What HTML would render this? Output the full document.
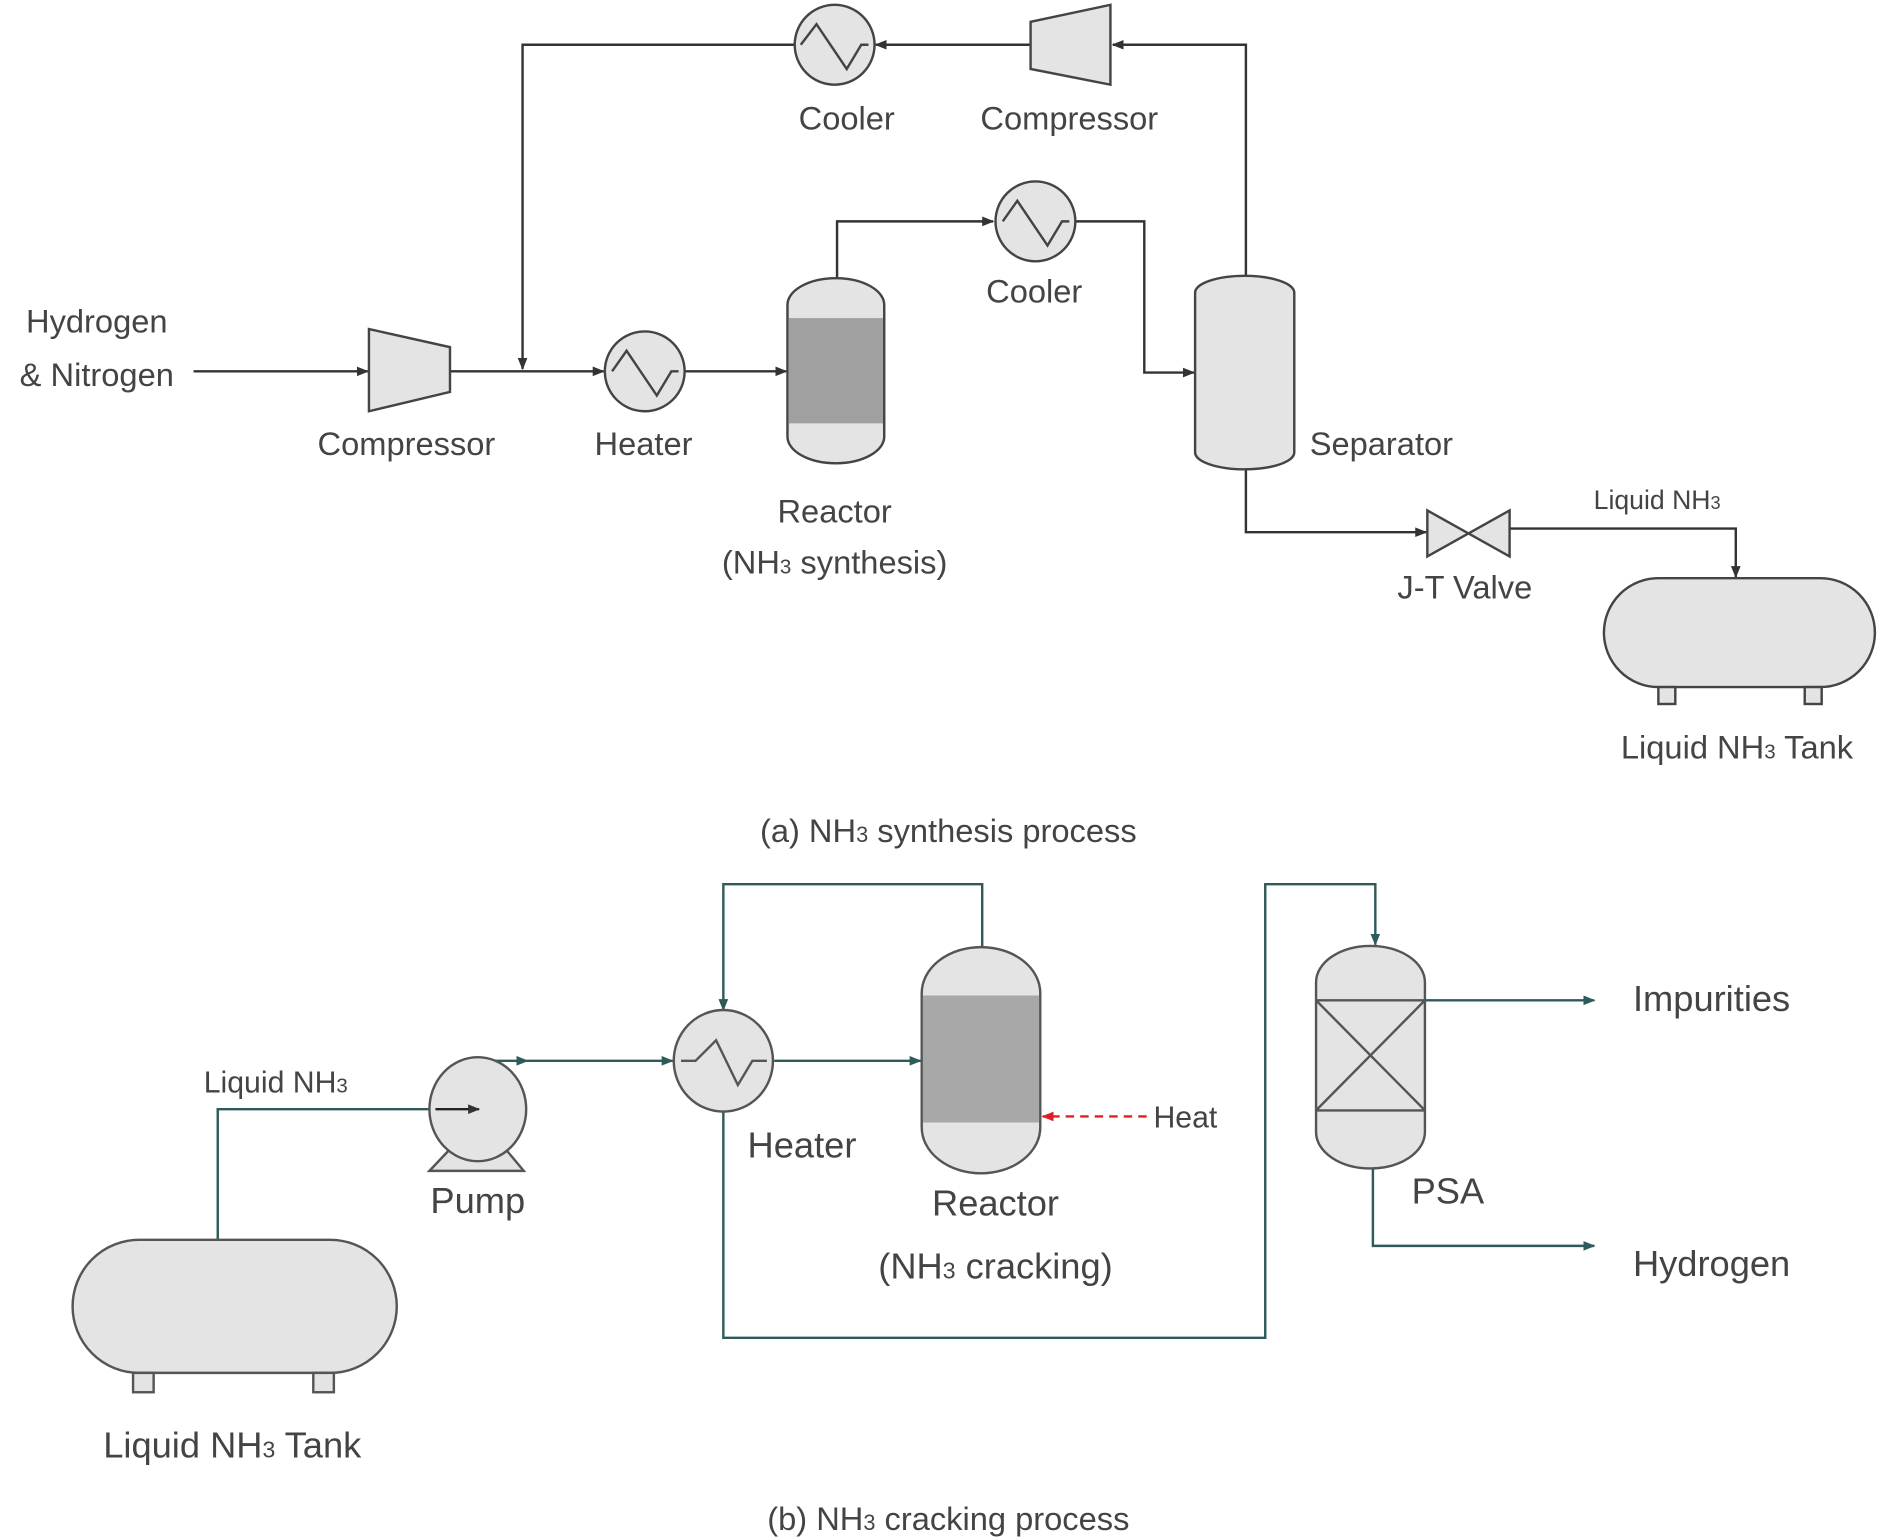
<!DOCTYPE html>
<html><head><meta charset="utf-8"><style>
html,body{margin:0;padding:0;background:#fff;}
svg{display:block;}
text{font-family:"Liberation Sans","Noto Sans CJK KR",sans-serif;fill:#444;}
</style></head><body>
<svg width="1887" height="1538" viewBox="0 0 1560 1271.5" xmlns="http://www.w3.org/2000/svg">
<defs>
<marker id="a" markerWidth="10" markerHeight="10" refX="9" refY="5" orient="auto" markerUnits="userSpaceOnUse"><path d="M0,1 L10,5 L0,9 Z" fill="#333"/></marker>
<marker id="t" markerWidth="10" markerHeight="10" refX="9" refY="5" orient="auto" markerUnits="userSpaceOnUse"><path d="M0,1 L10,5 L0,9 Z" fill="#2f5a5a"/></marker>
<marker id="r" markerWidth="10" markerHeight="10" refX="9" refY="5" orient="auto" markerUnits="userSpaceOnUse"><path d="M0,1 L10,5 L0,9 Z" fill="#e02020"/></marker>
</defs>
<g fill="none" stroke="#333" stroke-width="2">
<polyline points="1030,235 1030,37 920,37" marker-end="url(#a)"/>
<polyline points="852,37 724,37" marker-end="url(#a)"/>
<polyline points="657,37 432,37 432,305" marker-end="url(#a)"/>
<line x1="160" y1="307" x2="304" y2="307" marker-end="url(#a)"/>
<line x1="372" y1="307" x2="499" y2="307" marker-end="url(#a)"/>
<line x1="566" y1="307" x2="650" y2="307" marker-end="url(#a)"/>
<polyline points="692,230 692,183 821,183" marker-end="url(#a)"/>
<polyline points="889,183 946,183 946,308 987,308" marker-end="url(#a)"/>
<polyline points="1030,388 1030,440 1179,440" marker-end="url(#a)"/>
<polyline points="1248,437 1435,437 1435,477" marker-end="url(#a)"/>
</g>
<g stroke="#444" stroke-width="2" fill="#e4e4e4">
<circle cx="690" cy="37" r="33"/>
<path d="M852,18 L918,4 L918,70 L852,57 Z"/>
<path d="M305,272 L372,287 L372,324 L305,340 Z"/>
<circle cx="533" cy="307" r="33"/>
<circle cx="856" cy="183" r="33"/>
<rect x="651" y="230" width="80" height="153" rx="40" ry="22"/>
<rect x="988" y="228" width="82" height="160" rx="41" ry="14"/>
<path d="M1180,422 L1248,460 L1248,422 L1180,460 Z"/>
<rect x="1326" y="478" width="224" height="90" rx="45" ry="45"/>
<rect x="1371" y="568" width="14" height="14"/>
<rect x="1492" y="568" width="14" height="14"/>
</g>
<rect x="652" y="263" width="78" height="87" fill="#a0a0a0"/>
<g fill="none" stroke="#444" stroke-width="2">
<polyline points="662,37 675,20 700,57 712,37 718,37"/>
<polyline points="506,307 518,290 543,327 555,307 561,307"/>
<polyline points="829,183 841,166 866,203 878,183 884,183"/>
</g>
<g font-size="27" text-anchor="middle">
<text x="700" y="107">Cooler</text>
<text x="884" y="107">Compressor</text>
<text x="80" y="275">Hydrogen</text>
<text x="80" y="319">&amp; Nitrogen</text>
<text x="336" y="376">Compressor</text>
<text x="532" y="376">Heater</text>
<text x="690" y="432">Reactor</text>
<text x="690" y="474">(NH<tspan font-size="17">3</tspan> synthesis)</text>
<text x="855" y="250">Cooler</text>
<text x="1142" y="376">Separator</text>
<text x="1211" y="495">J-T Valve</text>
<text x="1436" y="627">Liquid NH<tspan font-size="17">3</tspan> Tank</text>
<text x="1370" y="421" font-size="22">Liquid NH<tspan font-size="15">3</tspan></text>
<text x="784" y="696" font-size="27" fill="#222">(a) NH<tspan font-size="18">3</tspan> synthesis process</text>
</g>
<g fill="none" stroke="#2f5a5a" stroke-width="2">
<polyline points="180,1025 180,917 395,917" marker-end="url(#t)"/>
<polyline points="395,877 436,877" marker-end="url(#t)"/>
<line x1="436" y1="877" x2="556" y2="877" marker-end="url(#t)"/>
<line x1="640" y1="877" x2="761" y2="877" marker-end="url(#t)"/>
<polyline points="812,783 812,731 598,731 598,835" marker-end="url(#t)"/>
<polyline points="598,918 598,1106 1046,1106 1046,731 1137,731 1137,781" marker-end="url(#t)"/>
<polyline points="1178,827 1318,827" marker-end="url(#t)"/>
<polyline points="1135,966 1135,1030 1318,1030" marker-end="url(#t)"/>
</g>
<line x1="948" y1="923" x2="862" y2="923" stroke="#e02020" stroke-width="2" stroke-dasharray="7,5" marker-end="url(#r)"/>
<g stroke="#555" stroke-width="2" fill="#e4e4e4">
<rect x="60" y="1025" width="268" height="110" rx="55" ry="55"/>
<rect x="110" y="1135" width="17" height="16"/>
<rect x="259" y="1135" width="17" height="16"/>
<path d="M355,968 L372,950 L418,950 L433,968 Z"/>
<ellipse cx="395" cy="917" rx="40" ry="43"/>
<ellipse cx="598" cy="877" rx="41" ry="42"/>
<rect x="762" y="783" width="98" height="187" rx="49" ry="38"/>
<rect x="1088" y="782" width="90" height="184" rx="45" ry="30"/>
</g>
<rect x="763" y="823" width="96" height="105" fill="#a8a8a8"/>
<g stroke="#555" stroke-width="2" fill="none">
<line x1="1088" y1="827" x2="1178" y2="827"/>
<line x1="1088" y1="918" x2="1178" y2="918"/>
<line x1="1088" y1="827" x2="1178" y2="918"/>
<line x1="1178" y1="827" x2="1088" y2="918"/>
<polyline points="563,877 575,877 592,860 610,897 622,877 634,877"/>
</g>
<line x1="360" y1="917" x2="396" y2="917" stroke="#222" stroke-width="2" marker-end="url(#a)"/>
<g font-size="30" text-anchor="middle">
<text x="228" y="903" font-size="25">Liquid NH<tspan font-size="17">3</tspan></text>
<text x="395" y="1003">Pump</text>
<text x="663" y="957">Heater</text>
<text x="823" y="1005">Reactor</text>
<text x="823" y="1057">(NH<tspan font-size="19">3</tspan> cracking)</text>
<text x="980" y="932" font-size="25">Heat</text>
<text x="1197" y="995">PSA</text>
<text x="1415" y="836">Impurities</text>
<text x="1415" y="1055">Hydrogen</text>
<text x="192" y="1205">Liquid NH<tspan font-size="19">3</tspan> Tank</text>
<text x="784" y="1265" font-size="27" fill="#222">(b) NH<tspan font-size="18">3</tspan> cracking process</text>
</g>
</svg>
</body></html>
